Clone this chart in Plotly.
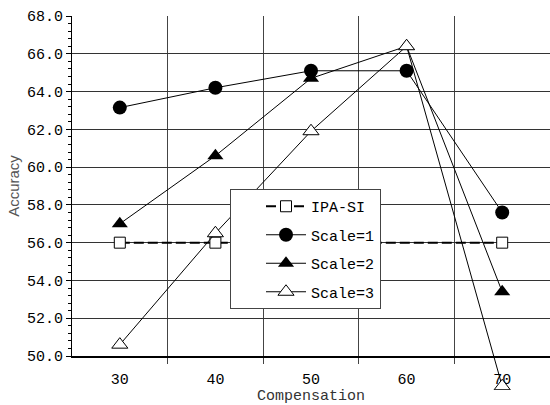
import plotly.graph_objects as go

compensation = [30, 40, 50, 60, 70]
ipa_x = [30, 40, 50, 70]
ipa_si = [56.0, 56.0, 56.0, 56.0]
scale1 = [63.15, 64.2, 65.1, 65.1, 57.6]
scale2 = [57.0, 60.6, 64.7, 66.4, 53.4]
scale3 = [50.6, 56.5, 61.9, 66.4, 48.4]
x_ticks = [30, 40, 50, 60, 70]
y_ticks = [50, 52, 54, 56, 58, 60, 62, 64, 66, 68]
y_tick_text = ["%.1f" % v for v in y_ticks]

mono = "Liberation Mono"

# pixel geometry: axis 50 at y=356, 68 at y=16; plot area extends to y=390
H, TOP, BOT = 405, 16, 390
y_lo_ext = 50 - (BOT - 356) * 18 / 340
y_dom0 = (BOT - 356) / (BOT - TOP)

fig = go.Figure()
fig.add_trace(go.Scatter(
    x=ipa_x, y=ipa_si, name="IPA-SI", mode="lines+markers", legendgroup="a",
    line=dict(color="black", width=2, dash="10px,4px"),
    marker=dict(symbol="square", size=11, color="white", line=dict(color="black", width=1))))
fig.add_trace(go.Scatter(
    x=compensation, y=scale1, name="Scale=1", mode="lines+markers", legendgroup="b",
    line=dict(color="black", width=1),
    marker=dict(symbol="circle", size=14, color="black")))
fig.add_trace(go.Scatter(
    x=compensation, y=scale2, name="Scale=2", mode="lines+markers", legendgroup="c",
    line=dict(color="black", width=1),
    marker=dict(symbol="triangle-up", size=14, color="black")))
fig.add_trace(go.Scatter(
    x=compensation, y=scale3, name="Scale=3", mode="lines+markers", legendgroup="d",
    xaxis="x2", yaxis="y2",
    line=dict(color="black", width=1),
    marker=dict(symbol="triangle-up", size=14, color="white", line=dict(color="black", width=1))))

fig.update_layout(
    width=550, height=H,
    margin=dict(l=72, r=0, t=TOP, b=H - BOT, autoexpand=False),
    paper_bgcolor="white", plot_bgcolor="rgba(0,0,0,0)",
    font=dict(family=mono, size=15, color="black"),
    showlegend=True,
    legend=dict(
        x=(230 - 72) / 478, y=1 - (189 - TOP) / (BOT - TOP), xanchor="left", yanchor="top",
        bgcolor="white", bordercolor="#444", borderwidth=1,
        font=dict(family=mono, size=15, color="black"),
        tracegroupgap=6, itemwidth=40, indentation=30,
    ),
    xaxis=dict(
        range=[25, 75], domain=[0, 1], anchor="y", tickvals=x_ticks, ticks="", showgrid=False,
        showline=True, linecolor="black", linewidth=2,
        zeroline=False, automargin=False, ticklabelstandoff=8,
        title=dict(text="Compensation", font=dict(family=mono, size=15, color="#333"), standoff=2),
        tickfont=dict(family=mono, size=15, color="black"),
        minor=dict(tickvals=[35, 45, 55, 65], showgrid=True, gridcolor="#444", gridwidth=1,
                   ticks="outside", ticklen=6, tickcolor="#444"),
    ),
    yaxis=dict(
        range=[50, 68], domain=[y_dom0, 1], anchor="x", tickvals=y_ticks, ticktext=y_tick_text,
        ticks="outside", ticklen=5, tickcolor="black",
        showgrid=True, gridcolor="#333", gridwidth=1,
        showline=True, linecolor="black", linewidth=1,
        zeroline=False, automargin=False,
        title=dict(text="Accuracy", font=dict(family="Liberation Sans Narrow, Liberation Sans", size=15, color="#555"), standoff=3),
        tickfont=dict(family=mono, size=15, color="black"),
        minor=dict(dtick=0.4, ticks="outside", ticklen=3, tickcolor="black", showgrid=False),
    ),
    xaxis2=dict(range=[25, 75], domain=[0, 1], anchor="y2", visible=False, showgrid=False),
    yaxis2=dict(range=[y_lo_ext, 68], domain=[0, 1], anchor="x2", visible=False, showgrid=False),
)

fig.write_html("out.html")
